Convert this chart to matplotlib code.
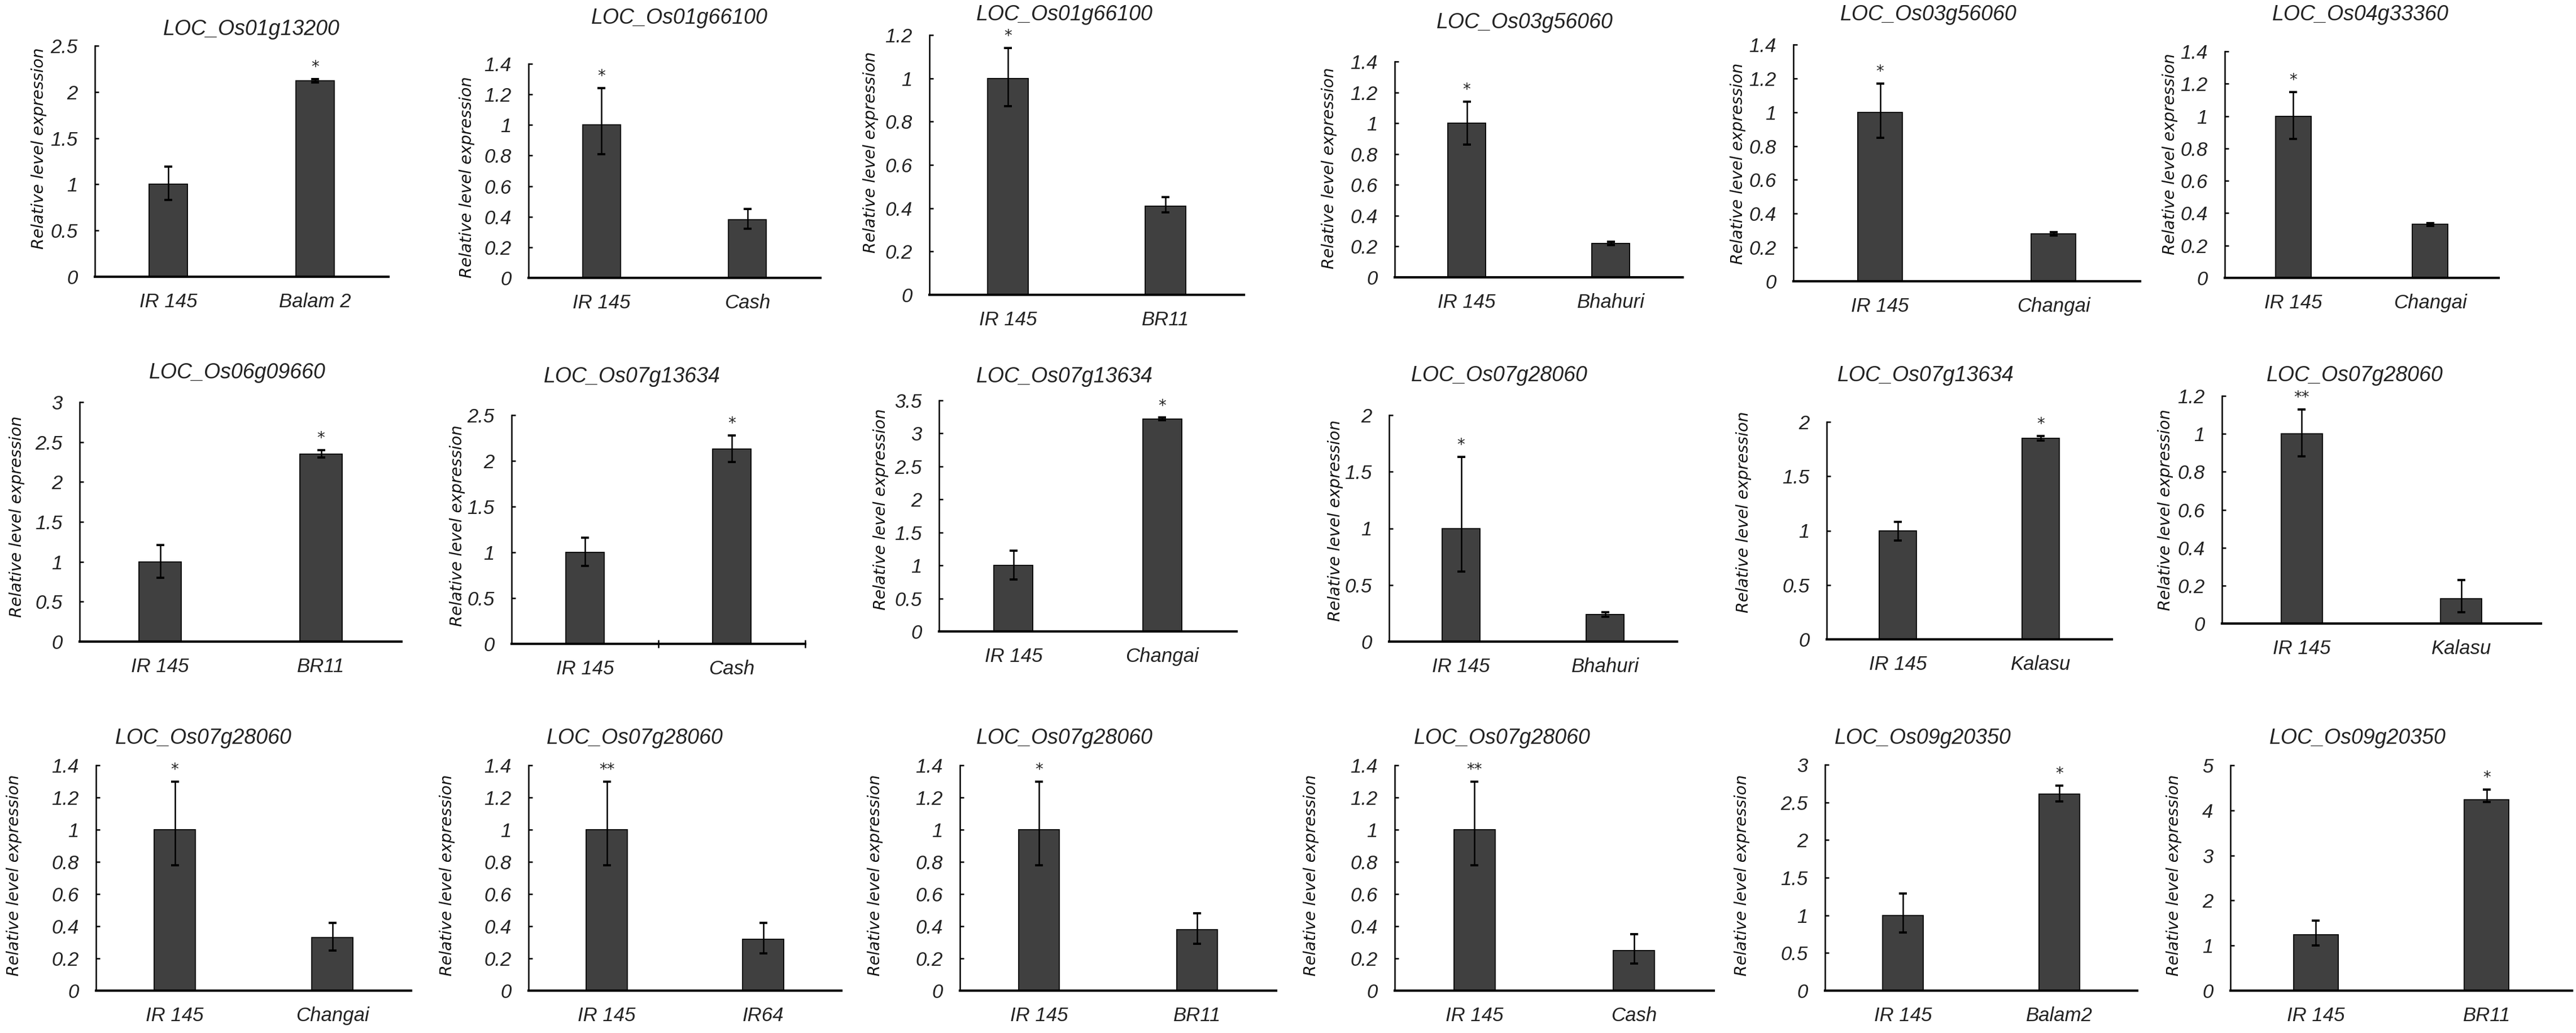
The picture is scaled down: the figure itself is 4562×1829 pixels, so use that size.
import numpy as np
import matplotlib
matplotlib.use("Agg")
import matplotlib.pyplot as plt
from matplotlib.ticker import FuncFormatter

# ---------------- data ----------------
titles = ["LOC_Os01g13200", "LOC_Os01g66100", "LOC_Os01g66100", "LOC_Os03g56060",
          "LOC_Os03g56060", "LOC_Os04g33360",
          "LOC_Os06g09660", "LOC_Os07g13634", "LOC_Os07g13634", "LOC_Os07g28060",
          "LOC_Os07g13634", "LOC_Os07g28060",
          "LOC_Os07g28060", "LOC_Os07g28060", "LOC_Os07g28060", "LOC_Os07g28060",
          "LOC_Os09g20350", "LOC_Os09g20350"]
cultivars = [["IR 145", "Balam 2"], ["IR 145", "Cash"], ["IR 145", "BR11"], ["IR 145", "Bhahuri"],
             ["IR 145", "Changai"], ["IR 145", "Changai"],
             ["IR 145", "BR11"], ["IR 145", "Cash"], ["IR 145", "Changai"], ["IR 145", "Bhahuri"],
             ["IR 145", "Kalasu"], ["IR 145", "Kalasu"],
             ["IR 145", "Changai"], ["IR 145", "IR64"], ["IR 145", "BR11"], ["IR 145", "Cash"],
             ["IR 145", "Balam2"], ["IR 145", "BR11"]]
means = [[1.0, 2.12], [1.0, 0.38], [1.0, 0.41], [1.0, 0.22], [1.0, 0.28], [1.0, 0.33],
         [1.0, 2.35], [1.0, 2.13], [1.0, 3.22], [1.0, 0.24], [1.0, 1.85], [1.0, 0.13],
         [1.0, 0.33], [1.0, 0.32], [1.0, 0.38], [1.0, 0.25], [1.0, 2.61], [1.24, 4.24]]
err_low = [[0.17, 0.02], [0.19, 0.06], [0.13, 0.03], [0.14, 0.01], [0.15, 0.01], [0.14, 0.01],
           [0.20, 0.04], [0.15, 0.14], [0.21, 0.02], [0.38, 0.02], [0.09, 0.02], [0.12, 0.07],
           [0.22, 0.08], [0.22, 0.09], [0.22, 0.09], [0.22, 0.08], [0.23, 0.10], [0.24, 0.06]]
err_high = [[0.19, 0.02], [0.24, 0.07], [0.14, 0.04], [0.14, 0.01], [0.17, 0.01], [0.15, 0.01],
            [0.21, 0.05], [0.16, 0.15], [0.22, 0.02], [0.63, 0.02], [0.08, 0.02], [0.13, 0.10],
            [0.30, 0.09], [0.30, 0.10], [0.30, 0.10], [0.30, 0.10], [0.29, 0.11], [0.32, 0.22]]
y_max = [2.5, 1.4, 1.2, 1.4, 1.4, 1.4,
         3.0, 2.5, 3.5, 2.0, 2.0, 1.2,
         1.4, 1.4, 1.4, 1.4, 3.0, 5.0]
y_step = [0.5, 0.2, 0.2, 0.2, 0.2, 0.2,
          0.5, 0.5, 0.5, 0.5, 0.5, 0.2,
          0.2, 0.2, 0.2, 0.2, 0.5, 1.0]
star_bar = [1, 0, 0, 0, 0, 0,
            1, 1, 1, 0, 1, 0,
            0, 0, 0, 0, 1, 1]
star_text = ["*", "*", "*", "*", "*", "*",
             "*", "*", "*", "*", "*", "**",
             "*", "**", "*", "**", "*", "*"]
y_label = "Relative level expression"

# ---------------- layout (pixels in the 4562x1829 canvas) ----------------
W, H = 4562, 1829
# x-axis start, x-axis end, y of top tick, y of zero line
boxes = [(168, 688, 81, 490), (936, 1453, 113, 492), (1646, 2203, 62, 522),
         (2470, 2980, 109, 491), (3176, 3790, 79, 498), (3940, 4425, 91, 492),
         (141, 711, 712, 1136), (906, 1426, 735, 1140), (1663, 2190, 709, 1118),
         (2460, 2970, 735, 1136), (3235, 3740, 747, 1132), (3935, 4500, 701, 1104),
         (170, 728, 1355, 1754), (936, 1490, 1355, 1754), (1700, 2260, 1355, 1754),
         (2470, 3035, 1355, 1754), (3232, 3785, 1354, 1754), (3950, 4555, 1355, 1754)]
title_pos = [(445, 52), (1203, 32), (1885, 26), (2700, 40), (3415, 26), (4180, 26),
             (420, 660), (1119, 667), (1885, 667), (2655, 665), (3410, 665), (4170, 665),
             (360, 1307), (1124, 1307), (1885, 1307), (2660, 1307), (3405, 1307), (4175, 1307)]
ylabel_pos = [(69, 263), (827, 314), (1542, 270), (2354, 298), (3078, 290), (3843, 273),
              (30, 915), (810, 931), (1560, 902), (2365, 922), (3088, 907), (3835, 903),
              (25, 1550), (792, 1550), (1550, 1550), (2322, 1550), (3085, 1550), (3850, 1550)]

narrow = ["Liberation Sans Narrow", "Liberation Sans", "DejaVu Sans"]
plt.rcParams["font.family"] = narrow

fig = plt.figure(figsize=(W / 100, H / 100), dpi=100)
fig.patch.set_facecolor("white")

fmt = FuncFormatter(lambda v, p: f"{round(v, 2):g}")

for i in range(len(titles)):
    x0, x1, yt, yb = boxes[i]
    ax = fig.add_axes([x0 / W, 1 - yb / H, (x1 - x0) / W, (yb - yt) / H])
    xs = np.arange(len(cultivars[i]))
    ax.bar(xs, means[i], width=0.26, color="#404040", edgecolor="black",
           linewidth=1.3, zorder=2)
    ax.errorbar(xs, means[i], yerr=[err_low[i], err_high[i]], fmt="none",
                ecolor="black", elinewidth=1.8, capsize=5, capthick=2.8, zorder=3)
    ax.set_xlim(-0.5, 1.5)
    ax.set_ylim(0, y_max[i])
    ax.set_yticks(np.arange(0, y_max[i] + 1e-9, y_step[i]))
    ax.yaxis.set_major_formatter(fmt)
    ax.set_xticks(xs)
    ax.set_xticklabels(cultivars[i])
    for s in ("top", "right"):
        ax.spines[s].set_visible(False)
    ax.spines["left"].set_linewidth(1.8)
    ax.spines["bottom"].set_linewidth(3.0)
    ax.spines["bottom"].set_zorder(4)
    ax.tick_params(axis="y", direction="in", length=5, width=1.8, pad=22,
                   labelsize=25, labelcolor="#222222")
    ax.tick_params(axis="x", length=0, pad=20, labelsize=25, labelcolor="#222222")
    for lab in ax.get_xticklabels() + ax.get_yticklabels():
        lab.set_fontstyle("italic")
    if i == 7:
        ax.set_xticks([0.5, 1.5], minor=True)
        ax.tick_params(axis="x", which="minor", direction="inout", length=10, width=1.8)

    b = star_bar[i]
    ax.annotate(star_text[i], (xs[b], means[i][b] + err_high[i][b]),
                xytext=(0, 15), textcoords="offset points", ha="center", va="center",
                fontsize=20, color="#222222", fontfamily=["DejaVu Sans"])

    tx, ty = title_pos[i]
    fig.text(tx / W, 1 - ty / H, titles[i], ha="center", va="center",
             fontsize=27, fontstyle="italic", color="#222222")

    lx, ly = ylabel_pos[i]
    ax.set_ylabel(y_label, fontsize=20.5, fontstyle="italic", va="center", ha="center",
                  fontfamily=["DejaVu Sans"], color="#111111")
    ax.yaxis.set_label_coords((lx - x0) / (x1 - x0), (yb - ly) / (yb - yt))

fig.savefig("out.png", dpi=100, facecolor="white")
